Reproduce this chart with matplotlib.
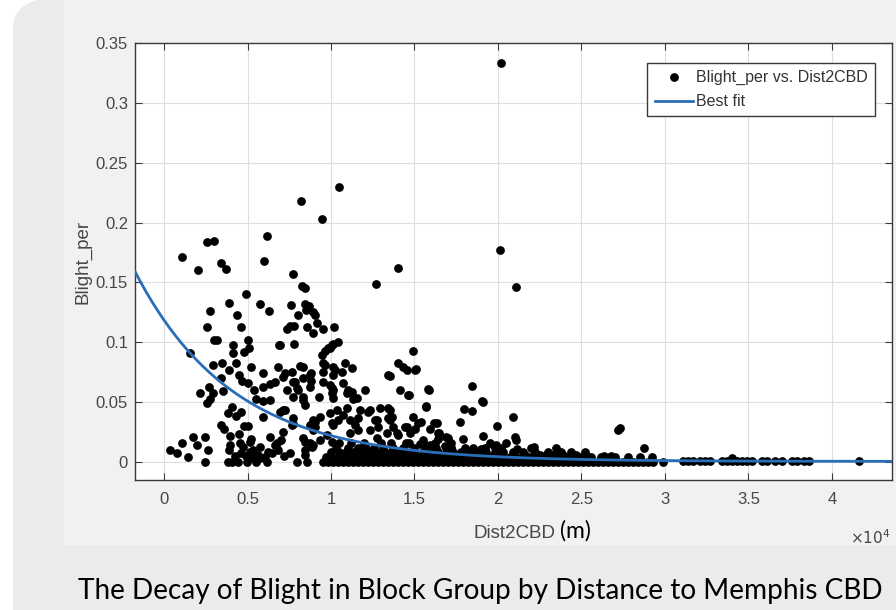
"""Blight share vs. distance to the Memphis CBD, MATLAB-style scatter with exponential fit."""

import matplotlib
matplotlib.use("Agg")
import matplotlib.pyplot as plt
import numpy as np
from matplotlib.patches import FancyBboxPatch, Rectangle

plt.rcParams["font.family"] = ["Liberation Sans", "DejaVu Sans"]

# scattered block groups: (Dist2CBD in 1e4 m, Blight_per)
upper_points = [
    (0.108, 0.171), (0.204, 0.160), (0.258, 0.184), (0.300, 0.185), (0.342, 0.166), (0.372, 0.161),
    (0.618, 0.189), (0.600, 0.168), (0.490, 0.140), (0.390, 0.133), (0.276, 0.126), (0.438, 0.123),
    (0.576, 0.132), (0.630, 0.126), (1.050, 0.230), (0.822, 0.218), (0.948, 0.203), (0.774, 0.157),
    (0.828, 0.147), (0.846, 0.145), (0.762, 0.131), (0.800, 0.123), (0.846, 0.132), (0.870, 0.130),
    (0.852, 0.127), (0.906, 0.1225), (1.270, 0.149), (1.400, 0.162), (2.017, 0.333), (2.010, 0.1775),
    (2.107, 0.146),
]
left_points = [
    (0.258, 0.113), (0.462, 0.113), (0.300, 0.102), (0.318, 0.102), (0.504, 0.102), (0.414, 0.0975),
    (0.510, 0.095), (0.480, 0.092), (0.414, 0.091), (0.156, 0.091), (0.690, 0.0975), (0.348, 0.083),
    (0.294, 0.081), (0.432, 0.0825), (0.390, 0.0767), (0.522, 0.079), (0.450, 0.0725), (0.468, 0.068),
    (0.594, 0.074), (0.684, 0.079), (0.342, 0.070), (0.504, 0.066), (0.270, 0.0625), (0.216, 0.058),
    (0.294, 0.0575), (0.354, 0.059), (0.594, 0.0625), (0.636, 0.065), (0.540, 0.060), (0.276, 0.053),
    (0.258, 0.049), (0.552, 0.0525), (0.594, 0.051), (0.408, 0.046), (0.462, 0.042), (0.384, 0.041),
    (0.432, 0.0383), (0.594, 0.0375), (0.342, 0.031), (0.360, 0.0275), (0.480, 0.030), (0.504, 0.030),
    (0.450, 0.0233), (0.396, 0.0217), (0.174, 0.021), (0.246, 0.021), (0.198, 0.014), (0.108, 0.016),
    (0.036, 0.010), (0.078, 0.0075), (0.144, 0.004), (0.246, 0.000), (0.264, 0.010), (0.396, 0.014),
    (0.390, 0.010), (0.384, 0.000), (0.456, 0.016), (0.474, 0.0125), (0.462, 0.0075), (0.490, 0.005),
    (0.516, 0.0083), (0.534, 0.0033), (0.576, 0.0125), (0.564, 0.006), (0.606, 0.004), (0.618, 0.000),
    (0.636, 0.021), (0.666, 0.014), (0.648, 0.0075), (0.498, 0.000), (0.516, 0.017), (0.534, 0.010),
    (0.550, 0.000), (0.576, 0.003), (0.624, 0.008), (0.684, 0.010), (0.700, 0.018), (0.714, 0.025),
    (0.520, 0.019), (0.426, 0.005), (0.408, 0.000), (0.720, 0.005), (0.444, 0.000), (0.636, 0.0517),
    (0.666, 0.0667),
]
middle_points = [
    (0.738, 0.111), (0.780, 0.114), (0.858, 0.113), (0.894, 0.1075), (0.918, 0.116), (0.954, 0.111),
    (1.020, 0.113), (1.044, 0.100), (0.696, 0.098), (0.780, 0.099), (0.966, 0.093), (0.948, 0.089),
    (0.996, 0.095), (1.014, 0.099), (0.726, 0.074), (0.768, 0.075), (0.816, 0.080), (0.774, 0.0667),
    (0.804, 0.060), (0.738, 0.060), (0.882, 0.074), (0.882, 0.068), (0.830, 0.070), (0.966, 0.081),
    (1.014, 0.079), (1.014, 0.0725), (0.996, 0.064), (1.086, 0.0825), (1.128, 0.0783), (1.068, 0.075),
    (1.014, 0.060), (1.104, 0.060), (1.134, 0.053), (1.206, 0.060), (0.930, 0.054), (0.774, 0.054),
    (0.834, 0.0517), (0.846, 0.0475), (0.726, 0.0433), (0.774, 0.0367), (0.774, 0.032), (0.876, 0.031),
    (0.906, 0.0333), (0.936, 0.0375), (0.894, 0.0267), (0.996, 0.041), (1.008, 0.0325), (1.044, 0.035),
    (1.074, 0.039), (1.098, 0.045), (1.164, 0.0367), (1.176, 0.0433), (1.236, 0.0433), (1.296, 0.045),
    (1.344, 0.045), (1.266, 0.035), (1.356, 0.035), (1.374, 0.029), (1.404, 0.0225), (1.446, 0.029),
    (1.494, 0.0375), (1.524, 0.0325), (1.614, 0.0325), (1.686, 0.021), (1.494, 0.093), (1.344, 0.0725),
    (1.404, 0.0825), (1.434, 0.079), (1.458, 0.0767), (1.506, 0.0767), (1.416, 0.060), (1.464, 0.056),
    (1.584, 0.060), (1.566, 0.046), (1.236, 0.0267), (1.278, 0.020), (1.338, 0.024), (1.476, 0.024),
    (1.548, 0.018), (1.638, 0.024), (0.696, 0.0417), (0.678, 0.016), (0.756, 0.0075), (0.798, 0.000),
    (0.846, 0.0167), (0.846, 0.010), (0.894, 0.014), (0.936, 0.018), (0.858, 0.000), (0.894, 0.125),
    (0.756, 0.114), (0.984, 0.095), (1.008, 0.0975), (0.954, 0.083), (0.834, 0.079), (0.714, 0.071),
    (0.876, 0.0725), (0.954, 0.075), (1.026, 0.077), (0.786, 0.0667), (0.798, 0.0617), (0.876, 0.0625),
    (0.954, 0.0667), (1.008, 0.0617), (1.008, 0.0575), (1.014, 0.0533), (1.074, 0.066), (1.098, 0.0575),
    (1.128, 0.0583), (1.158, 0.0533), (0.834, 0.054), (0.714, 0.0433), (1.038, 0.0433), (1.224, 0.0417),
    (1.344, 0.0367), (1.278, 0.035), (1.284, 0.029), (0.768, 0.031), (0.894, 0.035), (0.906, 0.029),
    (1.014, 0.031), (1.116, 0.035), (1.146, 0.031), (0.834, 0.020), (0.876, 0.016), (0.978, 0.0225),
    (1.008, 0.0167), (1.116, 0.024), (1.164, 0.0267), (0.846, 0.006), (0.888, 0.0125),
]
right_points = [
    (1.356, 0.0717), (1.512, 0.0775), (1.578, 0.061), (1.470, 0.056), (1.842, 0.0633), (1.908, 0.050),
    (1.566, 0.0467), (1.794, 0.044), (1.842, 0.0425), (1.356, 0.0433), (1.368, 0.038), (1.536, 0.0333),
    (1.632, 0.0325), (1.770, 0.0333), (2.088, 0.0375), (1.992, 0.030), (1.458, 0.029), (1.506, 0.028),
    (1.590, 0.0275), (1.644, 0.024), (1.638, 0.019), (1.698, 0.020), (1.908, 0.0217), (1.788, 0.019),
    (1.986, 0.014), (2.106, 0.018), (2.100, 0.021), (1.975, 0.013), (1.398, 0.024), (1.470, 0.016),
    (1.530, 0.015), (1.590, 0.014), (1.680, 0.013), (1.720, 0.012), (1.850, 0.012), (1.900, 0.011),
    (2.112, 0.011), (2.214, 0.0125), (2.720, 0.0267), (2.730, 0.0283), (2.875, 0.0117), (1.902, 0.051),
    (2.160, 0.006), (2.250, 0.006), (2.290, 0.006), (2.330, 0.006), (2.390, 0.006), (2.440, 0.006),
    (2.470, 0.006), (2.530, 0.006), (2.635, 0.005), (2.677, 0.005), (3.400, 0.003),
]

# dense strip of low-blight block groups hugging zero
band_levels = [0.0, 0.004, 0.008, 0.012, 0.016]
band_rows = [
    [0.95, 0.98, 1.01, 1.04, 1.07, 1.10, 1.13, 1.16, 1.19, 1.22, 1.25, 1.28, 1.31, 1.34, 1.37, 1.40,
     1.43, 1.46, 1.49, 1.52, 1.55, 1.58, 1.61, 1.64, 1.67, 1.70, 1.73, 1.76, 1.79, 1.82, 1.85, 1.88,
     1.91, 1.94, 1.97, 2.00, 2.03, 2.06, 2.09, 2.12, 2.15, 2.18, 2.21, 2.24, 2.27, 2.30, 2.33, 2.36,
     2.39, 2.42, 2.45, 2.48, 2.51, 2.54, 2.57, 2.60, 2.63, 2.66, 2.69, 2.72, 2.75, 2.78, 2.81, 2.84,
     2.87, 2.90, 2.93, 2.99],
    [0.97, 1.00, 1.04, 1.08, 1.12, 1.15, 1.19, 1.22, 1.26, 1.30, 1.33, 1.37, 1.41, 1.44, 1.48, 1.52,
     1.55, 1.59, 1.63, 1.66, 1.70, 1.74, 1.77, 1.81, 1.85, 1.88, 1.92, 1.96, 2.00, 2.03, 2.07, 2.11,
     2.15, 2.19, 2.23, 2.27, 2.31, 2.35, 2.40, 2.45, 2.50, 2.56, 2.62, 2.70, 2.78, 2.85, 2.92],
    [1.00, 1.05, 1.09, 1.14, 1.18, 1.23, 1.27, 1.32, 1.36, 1.41, 1.45, 1.50, 1.55, 1.59, 1.64, 1.69,
     1.73, 1.78, 1.83, 1.88, 1.93, 1.98, 2.03, 2.09, 2.15, 2.22, 2.30, 2.38, 2.44, 2.52],
    [1.03, 1.10, 1.16, 1.21, 1.26, 1.31, 1.37, 1.43, 1.50, 1.57, 1.63, 1.72, 1.80, 1.92, 2.02, 2.20, 2.35],
    [1.05, 1.12, 1.20, 1.30, 1.36, 1.45, 1.55, 1.62, 1.72, 1.95, 2.05],
]
# far suburbs, all at roughly zero blight
tail_x = [3.11, 3.14, 3.17, 3.21, 3.24, 3.27, 3.34, 3.37, 3.40, 3.43, 3.46, 3.49, 3.52, 3.58, 3.61,
          3.66, 3.70, 3.76, 3.79, 3.83, 3.86, 4.16]
tail_y = 0.0008

# exponential best fit: a * exp(-b * d) + c
fit_a, fit_b, fit_c = 0.118, 1.7e-4, 0.0005

x_ticks = [0, 0.5, 1, 1.5, 2, 2.5, 3, 3.5, 4]
y_ticks = [0, 0.05, 0.1, 0.15, 0.2, 0.25, 0.3, 0.35]

xs, ys = [], []
for group in (upper_points, left_points, middle_points, right_points):
    for d, b in group:
        xs.append(d)
        ys.append(b)
for level, row in zip(band_levels, band_rows):
    xs.extend(row)
    ys.extend([level] * len(row))
xs.extend(tail_x)
ys.extend([tail_y] * len(tail_x))
dist = np.array(xs) * 1e4
blight = np.array(ys)

W, H = 896, 610
fig = plt.figure(figsize=(W / 100, H / 100), dpi=100, facecolor="white")

# page / panel backdrop, kept behind the axes
fig.patches.append(FancyBboxPatch((13 / W, -0.2), 1.2, 1.2 + 2 / H,
                                  boxstyle="round,pad=0,rounding_size=0.05",
                                  transform=fig.transFigure, facecolor="#ebebeb",
                                  edgecolor="none", zorder=-10))
fig.patches.append(Rectangle((64 / W, 1 - 545 / H), 1, 545 / H, transform=fig.transFigure,
                             facecolor="#f1f1f1", edgecolor="none", zorder=-9))

ax = fig.add_axes([135 / W, 1 - 480 / H, (892 - 135) / W, (480 - 43) / H])
ax.set_facecolor("white")
ax.set_xlim(-1740, 43600)
ax.set_ylim(-0.015, 0.35)

ax.plot(dist, blight, linestyle="none", marker="o", ms=6.3, mec="none", mfc="black",
        label="Blight_per vs. Dist2CBD", zorder=3)
fit_x = np.linspace(-1740, 43600, 400)
ax.plot(fit_x, fit_a * np.exp(-fit_b * fit_x) + fit_c, color="#2a6db8", lw=2.0,
        label="Best fit", zorder=4)

ax.set_xticks([t * 1e4 for t in x_ticks])
ax.set_xticklabels([f"{t:g}" for t in x_ticks])
ax.set_yticks(y_ticks)
ax.set_yticklabels([f"{t:g}" for t in y_ticks])
ax.grid(True, color="#dedede", linewidth=0.8)
ax.set_axisbelow(True)
ax.tick_params(direction="in", length=5, width=0.8, top=True, right=True,
               labelsize=12, labelcolor="#474747", color="#3a3a3a")
ax.tick_params(axis="x", pad=9)
ax.tick_params(axis="y", pad=5)
for spine in ax.spines.values():
    spine.set_color("#3a3a3a")
    spine.set_linewidth(1.0)

ax.set_ylabel("Blight_per", fontsize=13.5, color="#474747", labelpad=3)
fig.text(514 / W, 1 - 533 / H, "Dist2CBD", fontsize=13.5, color="#474747",
         ha="center", va="center")
fig.text(560 / W, 1 - 531 / H, "(m)", fontsize=16.5, color="black", family="Lato",
         ha="left", va="center")
fig.text(890 / W, 1 - 538 / H, r"$\times10^{4}$", fontsize=11, color="#474747",
         ha="right", va="center")

leg = ax.legend(loc="upper right", bbox_to_anchor=(875 / W, 1 - 63 / H),
                bbox_transform=fig.transFigure, borderaxespad=0, fancybox=False,
                framealpha=1, edgecolor="#3a3a3a", handlelength=2.4,
                handletextpad=0.2, labelspacing=0.55, borderpad=0.45,
                prop={"family": "Liberation Sans", "size": 11.5})
leg.get_frame().set_linewidth(1.0)
for txt in leg.get_texts():
    txt.set_color("#333333")

fig.text(78 / W, 1 - 591 / H, "The Decay of Blight in Block Group by Distance to Memphis CBD",
         fontsize=20.2, family="Lato", color="black", ha="left", va="center")

fig.savefig("out.png", dpi=100, facecolor=fig.get_facecolor())
